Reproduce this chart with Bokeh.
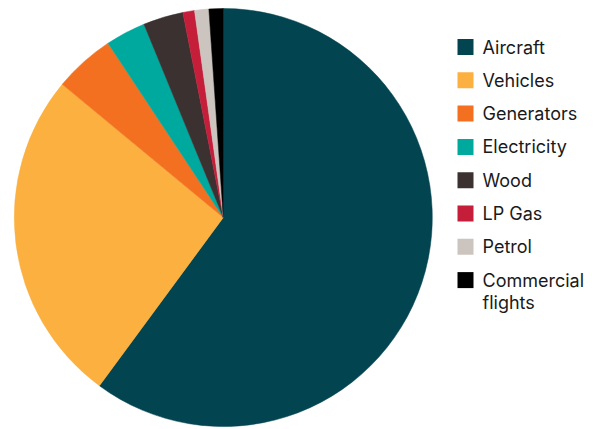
from bokeh.plotting import figure
from bokeh.models import ColumnDataSource, Range1d
from bokeh.core.properties import value
from bokeh.embed import file_html
from bokeh.resources import INLINE
import math

categories = ["Aircraft", "Vehicles", "Generators", "Electricity", "Wood", "LP Gas", "Petrol", "Commercial flights"]
shares = [60.1, 25.9, 4.7, 3.1, 3.1, 0.9, 1.1, 1.1]
colors = ["#02444F", "#FBB040", "#F37021", "#00A99D", "#3A3130", "#C41E3A", "#CCC4BF", "#000000"]
legend_lines = [["Aircraft"], ["Vehicles"], ["Generators"], ["Electricity"], ["Wood"], ["LP Gas"], ["Petrol"], ["Commercial", "flights"]]

W, H = 606, 429
p = figure(width=W, height=H, output_backend="svg", toolbar_location=None,
           x_range=Range1d(0, W), y_range=Range1d(H, 0), min_border=0)
p.axis.visible = False
p.grid.visible = False
p.outline_line_color = None
p.background_fill_color = "white"
p.border_fill_color = "white"

total = sum(shares)
starts, ends = [], []
cum = 0.0
for s in shares:
    a0 = cum / total * 2 * math.pi
    cum += s
    a1 = cum / total * 2 * math.pi
    # clockwise from 12 o'clock on screen
    starts.append(math.pi / 2 - a1)
    ends.append(math.pi / 2 - a0)

src = ColumnDataSource(dict(start=starts, end=ends, color=colors))
cx, cy, r = 222.8, 217, 209
p.wedge(x=cx, y=cy, radius=r, start_angle="start", end_angle="end", direction="anticlock",
        fill_color="color", line_color="color", line_width=0.5, source=src)

# legend
lx, ly0, dy = 465, 46.5, 33.3
sq_y = [ly0 + i * dy for i in range(len(categories))]
p.rect(x=[lx] * len(categories), y=sq_y, width=16, height=16, fill_color=colors, line_color=None)
tx, ty, tt = [], [], []
for i, lines in enumerate(legend_lines):
    for j, t in enumerate(lines):
        tx.append(482)
        ty.append(sq_y[i] + j * 22.5)
        tt.append(t)
p.text(x=tx, y=ty, text=tt, text_font=value("Inter"), text_font_size="18px",
       text_color="#1a1a1a", text_baseline="middle", text_align="left")

open("out.html", "w").write(file_html(p, INLINE))
